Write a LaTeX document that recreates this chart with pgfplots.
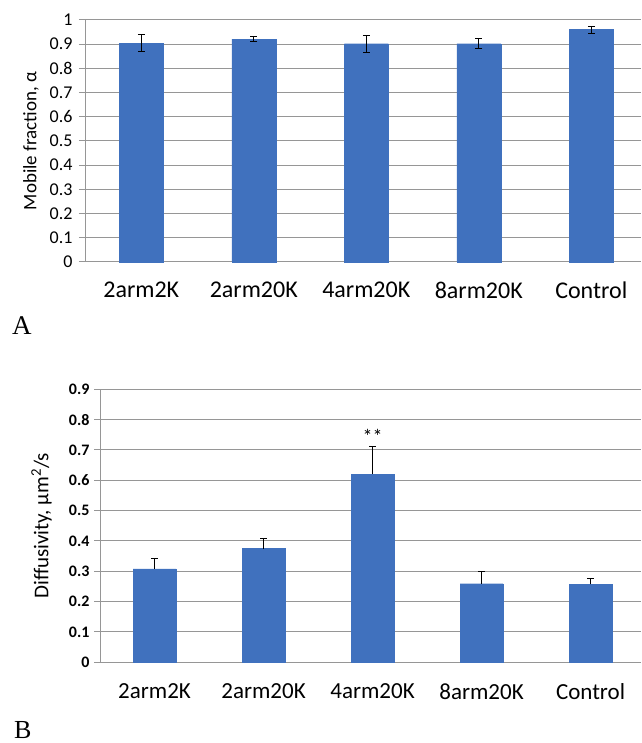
\documentclass[border=0pt]{standalone}
\usepackage{pgfplots}
\pgfplotsset{compat=1.18}
\usepackage{fontspec}
\setmainfont{Carlito}
\newfontfamily\seriffont{Liberation Serif}
\definecolor{barblue}{RGB}{64,113,190}
\definecolor{gridgray}{RGB}{150,150,150}
\pgfplotsset{
  excelbar/.style={
    scale only axis, anchor=south west,
    ybar, ymin=0,
    xmin=-0.5,
    axis x line*=bottom, axis y line*=left,
    axis line style={gridgray, line width=1pt},
    tick align=outside,
    ymajorgrids, grid style={gridgray, line width=1pt},
    xtick={0,1,2,3,4},
    xticklabels={2arm2K,2arm20K,4arm20K,8arm20K,Control},
    major x tick style={draw=none},
    extra x ticks={-0.5,0.5,1.5,2.5,3.5},
    extra x tick labels={},
    extra x tick style={grid=none, major tick length=7pt, tick style={draw=gridgray, line width=1pt}},
    major y tick style={draw=gridgray, line width=1pt},
    major tick length=6pt,
    /pgf/number format/assume math mode=true,
    clip=false,
  }
}
\begin{document}
\begin{tikzpicture}
\useasboundingbox (0,0) rectangle (641pt,743pt);
% ---------- A ----------
\begin{axis}[excelbar,
  at={(85pt,481pt)},
  width=556pt, height=242pt,
  xmax=4.442, ymax=1,
  bar width=44pt,
  ytick={0,0.1,0.2,0.3,0.4,0.5,0.6,0.7,0.8,0.9,1},
  yticklabel style={font=\fontsize{18}{20}\selectfont, xshift=-3pt},
  xticklabel style={font=\fontsize{24}{27}\selectfont, anchor=center, yshift=-22pt},
  ylabel={Mobile fraction, α},
  ylabel style={font=\fontsize{19}{22}\selectfont, at={(axis description cs:-0.097,0.5)}, anchor=center},
]
\addplot+[fill=barblue, draw=barblue, bar shift=0pt,
  error bars/.cd, y dir=both, y explicit,
  error bar style={black, line width=1pt},
  error mark options={black, rotate=90, mark size=3.5pt, line width=1pt}]
  coordinates {
  (0,0.904) +- (0,0.034)
  (1,0.921) +- (0,0.011)
  (2,0.902) +- (0,0.035)
  (3,0.902) +- (0,0.020)
  (4,0.960) +- (0,0.015)
  };
\end{axis}
\node[font=\seriffont\fontsize{27}{30}\selectfont, anchor=base west, inner sep=0pt] at (12pt,408pt) {A};
% ---------- B ----------
\begin{axis}[excelbar,
  at={(100pt,80.7pt)},
  width=541pt, height=273pt,
  xmax=4.463, ymax=0.9,
  bar width=43pt,
  ytick={0,0.1,0.2,0.3,0.4,0.5,0.6,0.7,0.8,0.9},
  yticklabel style={font=\bfseries\fontsize{16}{18}\selectfont, xshift=-1pt},
  xticklabel style={font=\fontsize{23}{26}\selectfont, anchor=center, yshift=-23pt},
  ylabel={Diffusivity, µm\textsuperscript{2}/s},
  ylabel style={font=\fontsize{21}{24}\selectfont, at={(axis description cs:-0.108,0.5)}, anchor=center},
]
\addplot+[fill=barblue, draw=barblue, bar shift=0pt,
  error bars/.cd, y dir=plus, y explicit,
  error bar style={black, line width=1pt},
  error mark options={black, rotate=90, mark size=3.5pt, line width=1pt}]
  coordinates {
  (0,0.308) +- (0,0.035)
  (1,0.375) +- (0,0.032)
  (2,0.620) +- (0,0.091)
  (3,0.259) +- (0,0.039)
  (4,0.257) +- (0,0.020)
  };
\node[font=\fontsize{20}{22}\selectfont] at (axis cs:2,0.745) {**};
\end{axis}
\node[font=\seriffont\fontsize{26}{30}\selectfont, anchor=base west, inner sep=0pt] at (14pt,5pt) {B};
\end{tikzpicture}
\end{document}
